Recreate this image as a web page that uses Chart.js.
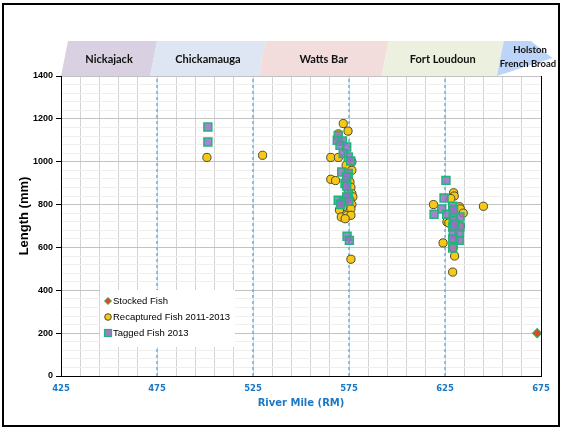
<!DOCTYPE html>
<html>
<head>
<meta charset="utf-8">
<script src="https://cdn.jsdelivr.net/npm/chart.js@4.4.0/dist/chart.umd.min.js"></script>
<style>
  html, body { margin: 0; padding: 0; background: #fff; }
</style>
</head>
<body>
<canvas id="fishChart" width="563" height="429"></canvas>
<script>
/* #region  DATA */
const damMiles = [475, 525, 575, 625];
const reservoirNames = ["Nickajack", "Chickamauga", "Watts Bar", "Fort Loudoun", "Holston|French Broad"];
const reservoirBounds = [425, 471.4, 528, 592, 652, 681];
const reservoirColors = ["#d9d0e2", "#dde6f2", "#f2dddc", "#ebf1de", "#bcd4f7"];

const xTickLabels = [425, 475, 525, 575, 625, 675];
const yTickLabels = [0, 200, 400, 600, 800, 1000, 1200, 1400];

const stockedMiles = [673];
const stockedLengths = [200];

const recapMiles = [
  501, 530,
  572, 574.5, 569.5, 565.5, 569.5, 576.5, 573.5, 565.5, 568, 575.5, 576.5, 576,
  576.5, 577, 575.5, 576.5, 572, 570, 576, 571, 574, 576, 573, 576,
  629.5, 629.8, 628, 619, 632.5, 633, 634.5, 645, 626, 627, 633, 630, 624, 629.3, 630, 629,
];
const recapLengths = [
  1020, 1030,
  1178, 1143, 1130, 1020, 1020, 1000, 983, 918, 912, 905, 960, 880,
  851, 836, 820, 800, 790, 775, 780, 742, 750, 750, 734, 545,
  855, 840, 828, 800, 790, 780, 760, 792, 719, 714, 700, 633, 621, 600, 560, 485,
];

const taggedMiles = [
  501.5, 501.5,
  569.4, 568.9, 571.6, 570.3, 573.8, 572, 574.6, 575.9, 571.2, 574.6, 573.8,
  572.9, 573.8, 574.6, 573.8, 569.4, 572, 575, 570.6, 574, 575.2,
  625.5, 624.5, 623.3, 619.3, 625.9, 629, 629.3, 632.8, 629.3, 629, 632.8,
  629.3, 632.4, 632.4, 629, 629.5, 630, 629,
];
const taggedLengths = [
  1162, 1092,
  1123, 1100, 1097, 1077, 1069, 1038, 1022, 1003, 952, 945, 929,
  898, 887, 851, 835, 820, 812, 815, 800, 652, 633,
  913, 831, 779, 755, 755, 792, 758, 742, 727, 695, 695,
  664, 664, 633, 597, 775, 710, 640,
];
/* #endregion */

const toPoints = (xs, ys) => xs.map((x, i) => ({ x: x, y: ys[i] }));

const blue = "#1b78c4";

const damSets = damMiles.map((m) => ({
  label: "dam",
  data: [{ x: m, y: 0 }, { x: m, y: 1400 }],
  showLine: true,
  borderColor: "#5db4ea",
  borderWidth: 1.5,
  borderDash: [3, 3],
  pointRadius: 0,
  order: 5,
}));

/* #region  DECOR PLUGIN */
const decor = {
  id: "decor",
  beforeDatasetsDraw(chart) {
    const { ctx, chartArea } = chart;
    ctx.save();
    ctx.strokeStyle = "#000";
    ctx.lineWidth = 1;
    ctx.beginPath();
    ctx.moveTo(chartArea.right + 0.5, chartArea.top);
    ctx.lineTo(chartArea.right + 0.5, chartArea.bottom);
    ctx.stroke();
    ctx.restore();
  },
  afterDraw(chart) {
    const { ctx } = chart;
    const xs = chart.scales.x;
    const px = (v) => xs.getPixelForValue(v);
    ctx.save();

    // reservoir banner
    const top = 41, bot = 76, slant = 7;
    for (let i = 0; i < reservoirNames.length; i++) {
      const a = px(reservoirBounds[i]);
      const b = px(reservoirBounds[i + 1]);
      ctx.fillStyle = reservoirColors[i];
      ctx.beginPath();
      if (i < reservoirNames.length - 1) {
        ctx.moveTo(a, bot);
        ctx.lineTo(a + slant, top);
        ctx.lineTo(b + slant, top);
        ctx.lineTo(b, bot);
      } else {
        ctx.moveTo(a, bot);
        ctx.lineTo(a + slant, top);
        ctx.lineTo(a + 34, top);
        ctx.lineTo(b, 58);
      }
      ctx.closePath();
      ctx.fill();

      ctx.fillStyle = "#111";
      ctx.font = "bold 11px Lato";
      ctx.textAlign = "center";
      ctx.textBaseline = "middle";
      const lines = reservoirNames[i].split("|");
      if (lines.length === 1) {
        ctx.fillText(lines[0], (a + b + slant) / 2, 59);
      } else {
        ctx.font = "bold 9.5px Lato";
        ctx.fillText(lines[0], 530, 50);
        ctx.fillText(lines[1], 528, 64);
      }
    }

    // outer frame
    ctx.strokeStyle = "#000";
    ctx.lineWidth = 2;
    ctx.strokeRect(3, 4, 556, 422);

    // y axis title
    ctx.save();
    ctx.translate(24, 216);
    ctx.rotate(-Math.PI / 2);
    ctx.fillStyle = "#000";
    ctx.font = "bold 13px 'Liberation Sans'";
    ctx.textAlign = "center";
    ctx.textBaseline = "middle";
    ctx.fillText("Length (mm)", 0, 0);
    ctx.restore();

    // legend box
    ctx.fillStyle = "#fff";
    ctx.fillRect(100, 290, 135, 57);
    ctx.font = "9.5px 'Liberation Sans'";
    ctx.textAlign = "left";
    ctx.textBaseline = "middle";
    const rows = [
      ["Stocked Fish", 301],
      ["Recaptured Fish 2011-2013", 317],
      ["Tagged Fish 2013", 333],
    ];
    rows.forEach(([txt, y], i) => {
      const mx = 108;
      ctx.lineWidth = 1;
      if (i === 0) {
        ctx.fillStyle = "#e8412c";
        ctx.strokeStyle = "#2fae4e";
        ctx.beginPath();
        ctx.moveTo(mx - 3.5, y);
        ctx.lineTo(mx, y - 3.5);
        ctx.lineTo(mx + 3.5, y);
        ctx.lineTo(mx, y + 3.5);
        ctx.closePath();
        ctx.fill();
        ctx.stroke();
      } else if (i === 1) {
        ctx.fillStyle = "#f7c815";
        ctx.strokeStyle = "#4d4a2e";
        ctx.beginPath();
        ctx.arc(mx, y, 3.3, 0, Math.PI * 2);
        ctx.fill();
        ctx.stroke();
      } else {
        ctx.fillStyle = "#9c7cc3";
        ctx.strokeStyle = "#1fb57a";
        ctx.lineWidth = 1.2;
        ctx.fillRect(mx - 3.5, y - 3.5, 7, 7);
        ctx.strokeRect(mx - 3.5, y - 3.5, 7, 7);
      }
      ctx.fillStyle = "#000";
      ctx.fillText(txt, 113, y + 0.5);
    });

    ctx.restore();
  },
};
/* #endregion */

/* #region  CHART */
const fishCtx = document.getElementById("fishChart").getContext("2d");

const fishChart = new Chart(fishCtx, {
  type: "scatter",
  data: {
    datasets: [
      {
        label: "Stocked Fish",
        data: toPoints(stockedMiles, stockedLengths),
        pointStyle: "rectRot",
        pointRadius: 4.5,
        backgroundColor: "#e8412c",
        borderColor: "#2fae4e",
        borderWidth: 1.2,
        order: 0,
      },
      {
        label: "Recaptured Fish 2011-2013",
        data: toPoints(recapMiles, recapLengths),
        pointStyle: "circle",
        pointRadius: 4.1,
        backgroundColor: "#f7c815",
        borderColor: "#4d4a2e",
        borderWidth: 1,
        order: 2,
      },
      {
        label: "Tagged Fish 2013",
        data: toPoints(taggedMiles, taggedLengths),
        pointStyle: "rect",
        pointRadius: 5.6,
        backgroundColor: "rgba(150, 112, 200, 0.85)",
        borderColor: "#1fb57a",
        borderWidth: 1.5,
        order: 1,
      },
      ...damSets,
    ],
  },
  options: {
    responsive: false,
    animation: false,
    layout: { padding: { left: 0, top: 76, right: 22, bottom: 0 } },
    plugins: {
      legend: { display: false },
      tooltip: { enabled: false },
    },
    scales: {
      x: {
        type: "linear",
        min: 425,
        max: 675,
        afterFit: (scale) => { scale.height = 53; },
        ticks: {
          stepSize: 10,
          autoSkip: false,
          maxRotation: 0,
          padding: 4,
          color: blue,
          font: { family: "DejaVu Sans", weight: "bold", size: 8.5 },
          callback: (v) => (xTickLabels.includes(v) ? String(v) : ""),
        },
        grid: {
          color: "#d4d4d4",
          lineWidth: 1,
          tickLength: 4,
          tickColor: "rgba(0,0,0,0)",
        },
        border: { color: "#000", width: 1 },
        title: {
          display: true,
          text: "River Mile (RM)",
          color: blue,
          font: { family: "DejaVu Sans", weight: "bold", size: 10 },
          padding: { top: 0, bottom: 20 },
        },
      },
      y: {
        min: 0,
        max: 1400,
        afterFit: (scale) => { scale.width = 61; },
        ticks: {
          stepSize: 40,
          autoSkip: false,
          padding: 3,
          color: "#000",
          font: { family: "Liberation Sans", weight: "bold", size: 9 },
          callback: (v) => (yTickLabels.includes(v) ? String(v) : ""),
        },
        grid: {
          color: (c) => (c.tick && yTickLabels.includes(c.tick.value) ? "#c2c2c2" : "#efefef"),
          lineWidth: 1,
          tickLength: 5,
          tickColor: (c) => (c.tick && yTickLabels.includes(c.tick.value) ? "#000" : "rgba(0,0,0,0)"),
        },
        border: { color: "#000", width: 1 },
        title: { display: false },
      },
    },
  },
  plugins: [decor],
});
/* #endregion */
</script>
</body>
</html>
